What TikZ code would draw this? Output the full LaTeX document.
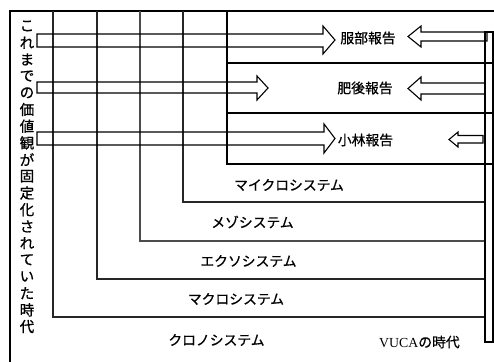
\documentclass[tikz,border=0pt]{standalone}
\usepackage{fontspec}
\setmainfont[FakeBold=0.8]{Noto Sans CJK JP}
\newfontfamily\latinserif{Liberation Serif}
\begin{document}
\begin{tikzpicture}[x=1pt,y=-1pt,
  thinline/.style={line width=1.1pt, black!85},
  thickline/.style={line width=1.6pt},
  frameline/.style={line width=2.4pt},
  hollowarrow/.style={line width=1.1pt, line join=miter},
  lbl/.style={inner sep=0pt, font=\fontsize{13.8}{14}\selectfont},
  vchar/.style={inner sep=0pt, font=\fontsize{14.5}{14}\selectfont}]
\useasboundingbox (0,0) rectangle (494,361);
% outer frame (top and left only)
\draw[frameline] (10,362) -- (10,11) -- (495,11);
% nested systems
\draw[thinline] (53,11) -- (53,317) -- (485,317);
\draw[thinline] (97,11) -- (97,279) -- (485,279);
\draw[thinline, black!70] (140,11) -- (140,241) -- (485,241);
\draw[thinline] (183,11) -- (183,202) -- (485,202);
\draw[thickline] (227,11) -- (227,164) -- (494,164);
\draw[thickline] (227,63) -- (494,63);
\draw[thickline] (227,113) -- (494,113);
% tall right rectangle
\draw[line width=1.3pt] (485,32) rectangle (493,342);
% right-pointing hollow arrows
\draw[hollowarrow] (37,34) -- (323,34) -- (323,26) -- (335,40) -- (323,54) -- (323,47) -- (37,47) -- cycle;
\draw[hollowarrow] (37,82) -- (257,82) -- (257,76) -- (268,88) -- (257,100) -- (257,93) -- (37,93) -- cycle;
\draw[hollowarrow] (37,132) -- (324,132) -- (324,124) -- (335,138.5) -- (324,153) -- (324,145) -- (37,145) -- cycle;
% left-pointing hollow arrows
\draw[hollowarrow] (487,32) -- (421,32) -- (421,26) -- (408,36.5) -- (421,47) -- (421,41) -- (487,41) -- cycle;
\draw[hollowarrow] (485,83) -- (421,83) -- (421,77) -- (408,88.5) -- (421,100) -- (421,94) -- (485,94) -- cycle;
\draw[hollowarrow] (483,135.5) -- (458,135.5) -- (458,132) -- (449,139.5) -- (458,147) -- (458,143) -- (483,143) -- cycle;
% report labels
\node[lbl] (hattori) at (368,38) {服部報告};
\node[lbl] (higo) at (365,88) {肥後報告};
\node[lbl] (kobayashi) at (365.5,140) {小林報告};
% system labels
\node[lbl] (micro) at (289,185) {マイクロシステム};
\node[lbl] (meso) at (252.5,222) {メゾシステム};
\node[lbl] (exo) at (248.5,261) {エクソシステム};
\node[lbl] (macro) at (236,299) {マクロシステム};
\node[lbl] (chrono) at (216.5,340) {クロノシステム};
\node[lbl, anchor=west] (vuca) at (379,342) {{\latinserif VUCA}の時代};
% vertical text
\foreach \c [count=\i from 0] in {こ,れ,ま,で,の,価,値,観,が,固,定,化,さ,れ,て,い,た,時,代}
  \node[vchar] (v\i) at (27,26+16.7*\i) {\c};
\end{tikzpicture}
\end{document}
